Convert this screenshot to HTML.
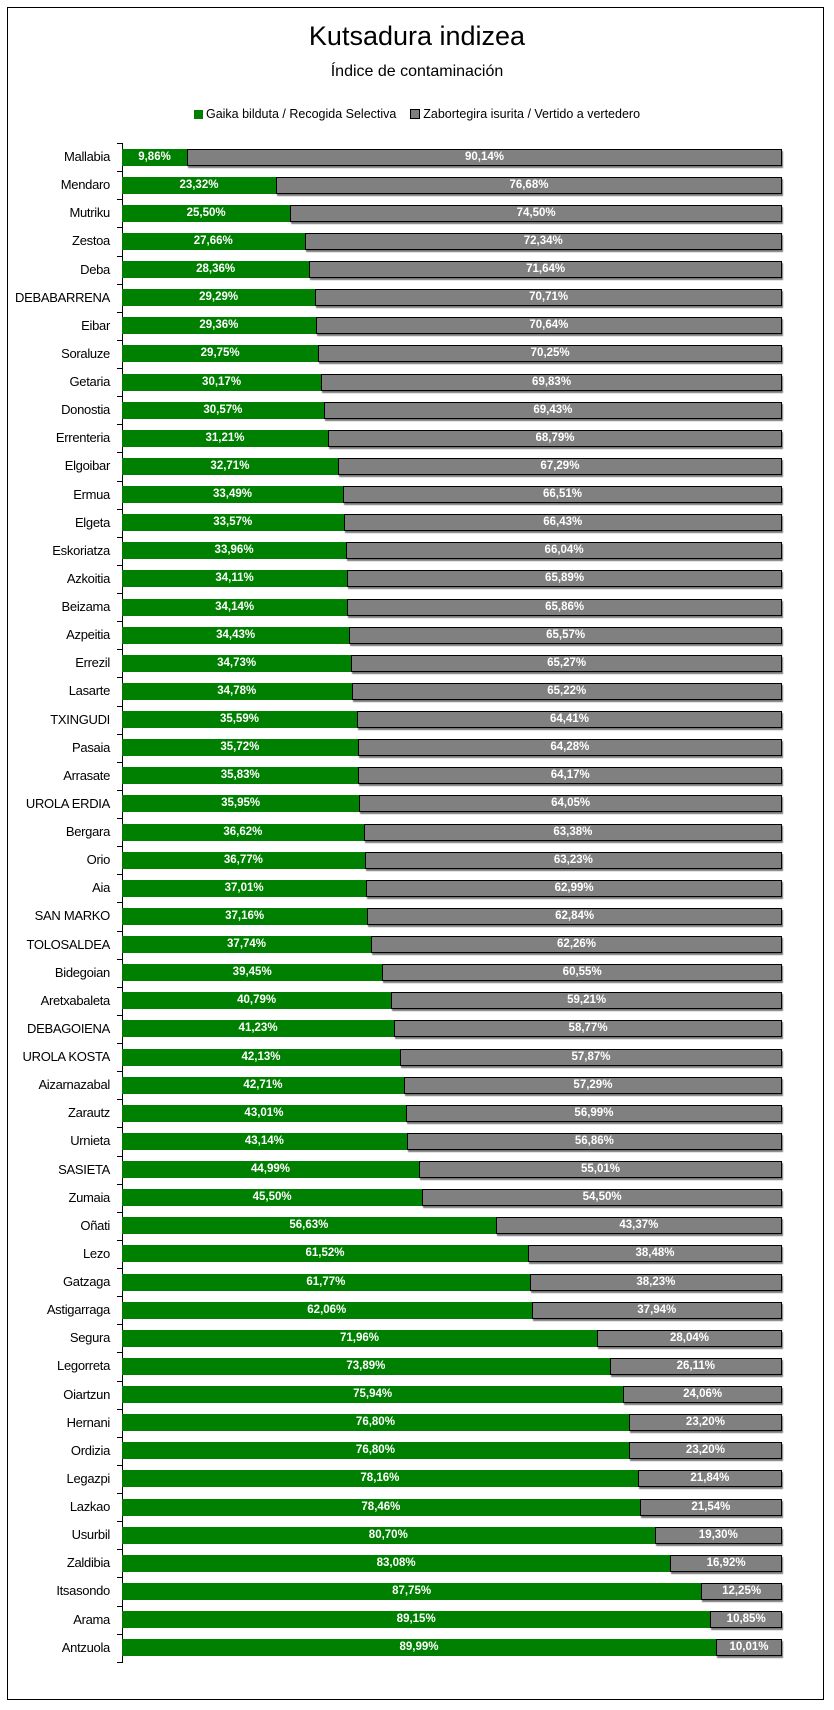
<!DOCTYPE html>
<html><head><meta charset="utf-8"><style>
body{margin:0;width:834px;height:1710px;background:#fff;position:relative;font-family:"Liberation Sans",sans-serif;overflow:hidden}
.frame{position:absolute;left:7px;top:7px;width:817px;height:1693px;border:1px solid #000;box-sizing:border-box}
.t1{position:absolute;top:21px;left:0;width:834px;text-align:center;font-size:27px;color:#000}
.t2{position:absolute;top:63px;left:0;width:834px;text-align:center;font-size:16px;color:#000}
.leg{position:absolute;top:107px;left:0;width:834px;text-align:center;font-size:12.5px;color:#000}
.leg s{display:inline-block;width:9px;height:9px;text-decoration:none;vertical-align:-1px;margin-right:3px}
.rows{position:absolute;top:143px;left:0;width:834px}
.r{position:relative;height:28.13px}
.r:before{content:"";position:absolute;left:117px;top:0;width:5px;height:1px;background:#000}
.r span{position:absolute;left:0;width:110px;text-align:right;top:6px;font-size:13px;color:#000;white-space:nowrap;letter-spacing:-0.3px}
.bar{position:absolute;left:122px;width:660px;top:5.5px;height:17px;display:flex}
.bar b{background:#008000;color:#fff;font-size:11.5px;text-align:center;line-height:17px;white-space:nowrap}
.bar i{flex:1;background:#808080;color:#fff;font-style:normal;font-weight:bold;font-size:11.5px;text-align:center;line-height:15px;border:1px solid #000;box-shadow:1px 2px 1px #777;white-space:nowrap}
.axis{position:absolute;left:122px;top:143px;width:1px;height:1520px;background:#000}
.endt{position:absolute;left:117px;top:1662px;width:5px;height:1px;background:#000}
</style></head><body>
<div class="frame"></div>
<div class="t1">Kutsadura indizea</div>
<div class="t2">Índice de contaminación</div>
<div class="leg"><s style="background:#008000"></s>Gaika bilduta / Recogida Selectiva &nbsp;&nbsp; <s style="background:#808080;border:1px solid #000;width:8px;height:8px"></s>Zabortegira isurita / Vertido a vertedero</div>
<div class="axis"></div><div class="endt"></div>
<div class="rows">
<div class="r"><span>Mallabia</span><div class="bar"><b style="width:9.86%">9,86%</b><i>90,14%</i></div></div>
<div class="r"><span>Mendaro</span><div class="bar"><b style="width:23.32%">23,32%</b><i>76,68%</i></div></div>
<div class="r"><span>Mutriku</span><div class="bar"><b style="width:25.50%">25,50%</b><i>74,50%</i></div></div>
<div class="r"><span>Zestoa</span><div class="bar"><b style="width:27.66%">27,66%</b><i>72,34%</i></div></div>
<div class="r"><span>Deba</span><div class="bar"><b style="width:28.36%">28,36%</b><i>71,64%</i></div></div>
<div class="r"><span>DEBABARRENA</span><div class="bar"><b style="width:29.29%">29,29%</b><i>70,71%</i></div></div>
<div class="r"><span>Eibar</span><div class="bar"><b style="width:29.36%">29,36%</b><i>70,64%</i></div></div>
<div class="r"><span>Soraluze</span><div class="bar"><b style="width:29.75%">29,75%</b><i>70,25%</i></div></div>
<div class="r"><span>Getaria</span><div class="bar"><b style="width:30.17%">30,17%</b><i>69,83%</i></div></div>
<div class="r"><span>Donostia</span><div class="bar"><b style="width:30.57%">30,57%</b><i>69,43%</i></div></div>
<div class="r"><span>Errenteria</span><div class="bar"><b style="width:31.21%">31,21%</b><i>68,79%</i></div></div>
<div class="r"><span>Elgoibar</span><div class="bar"><b style="width:32.71%">32,71%</b><i>67,29%</i></div></div>
<div class="r"><span>Ermua</span><div class="bar"><b style="width:33.49%">33,49%</b><i>66,51%</i></div></div>
<div class="r"><span>Elgeta</span><div class="bar"><b style="width:33.57%">33,57%</b><i>66,43%</i></div></div>
<div class="r"><span>Eskoriatza</span><div class="bar"><b style="width:33.96%">33,96%</b><i>66,04%</i></div></div>
<div class="r"><span>Azkoitia</span><div class="bar"><b style="width:34.11%">34,11%</b><i>65,89%</i></div></div>
<div class="r"><span>Beizama</span><div class="bar"><b style="width:34.14%">34,14%</b><i>65,86%</i></div></div>
<div class="r"><span>Azpeitia</span><div class="bar"><b style="width:34.43%">34,43%</b><i>65,57%</i></div></div>
<div class="r"><span>Errezil</span><div class="bar"><b style="width:34.73%">34,73%</b><i>65,27%</i></div></div>
<div class="r"><span>Lasarte</span><div class="bar"><b style="width:34.78%">34,78%</b><i>65,22%</i></div></div>
<div class="r"><span>TXINGUDI</span><div class="bar"><b style="width:35.59%">35,59%</b><i>64,41%</i></div></div>
<div class="r"><span>Pasaia</span><div class="bar"><b style="width:35.72%">35,72%</b><i>64,28%</i></div></div>
<div class="r"><span>Arrasate</span><div class="bar"><b style="width:35.83%">35,83%</b><i>64,17%</i></div></div>
<div class="r"><span>UROLA ERDIA</span><div class="bar"><b style="width:35.95%">35,95%</b><i>64,05%</i></div></div>
<div class="r"><span>Bergara</span><div class="bar"><b style="width:36.62%">36,62%</b><i>63,38%</i></div></div>
<div class="r"><span>Orio</span><div class="bar"><b style="width:36.77%">36,77%</b><i>63,23%</i></div></div>
<div class="r"><span>Aia</span><div class="bar"><b style="width:37.01%">37,01%</b><i>62,99%</i></div></div>
<div class="r"><span>SAN MARKO</span><div class="bar"><b style="width:37.16%">37,16%</b><i>62,84%</i></div></div>
<div class="r"><span>TOLOSALDEA</span><div class="bar"><b style="width:37.74%">37,74%</b><i>62,26%</i></div></div>
<div class="r"><span>Bidegoian</span><div class="bar"><b style="width:39.45%">39,45%</b><i>60,55%</i></div></div>
<div class="r"><span>Aretxabaleta</span><div class="bar"><b style="width:40.79%">40,79%</b><i>59,21%</i></div></div>
<div class="r"><span>DEBAGOIENA</span><div class="bar"><b style="width:41.23%">41,23%</b><i>58,77%</i></div></div>
<div class="r"><span>UROLA KOSTA</span><div class="bar"><b style="width:42.13%">42,13%</b><i>57,87%</i></div></div>
<div class="r"><span>Aizarnazabal</span><div class="bar"><b style="width:42.71%">42,71%</b><i>57,29%</i></div></div>
<div class="r"><span>Zarautz</span><div class="bar"><b style="width:43.01%">43,01%</b><i>56,99%</i></div></div>
<div class="r"><span>Urnieta</span><div class="bar"><b style="width:43.14%">43,14%</b><i>56,86%</i></div></div>
<div class="r"><span>SASIETA</span><div class="bar"><b style="width:44.99%">44,99%</b><i>55,01%</i></div></div>
<div class="r"><span>Zumaia</span><div class="bar"><b style="width:45.50%">45,50%</b><i>54,50%</i></div></div>
<div class="r"><span>Oñati</span><div class="bar"><b style="width:56.63%">56,63%</b><i>43,37%</i></div></div>
<div class="r"><span>Lezo</span><div class="bar"><b style="width:61.52%">61,52%</b><i>38,48%</i></div></div>
<div class="r"><span>Gatzaga</span><div class="bar"><b style="width:61.77%">61,77%</b><i>38,23%</i></div></div>
<div class="r"><span>Astigarraga</span><div class="bar"><b style="width:62.06%">62,06%</b><i>37,94%</i></div></div>
<div class="r"><span>Segura</span><div class="bar"><b style="width:71.96%">71,96%</b><i>28,04%</i></div></div>
<div class="r"><span>Legorreta</span><div class="bar"><b style="width:73.89%">73,89%</b><i>26,11%</i></div></div>
<div class="r"><span>Oiartzun</span><div class="bar"><b style="width:75.94%">75,94%</b><i>24,06%</i></div></div>
<div class="r"><span>Hernani</span><div class="bar"><b style="width:76.80%">76,80%</b><i>23,20%</i></div></div>
<div class="r"><span>Ordizia</span><div class="bar"><b style="width:76.80%">76,80%</b><i>23,20%</i></div></div>
<div class="r"><span>Legazpi</span><div class="bar"><b style="width:78.16%">78,16%</b><i>21,84%</i></div></div>
<div class="r"><span>Lazkao</span><div class="bar"><b style="width:78.46%">78,46%</b><i>21,54%</i></div></div>
<div class="r"><span>Usurbil</span><div class="bar"><b style="width:80.70%">80,70%</b><i>19,30%</i></div></div>
<div class="r"><span>Zaldibia</span><div class="bar"><b style="width:83.08%">83,08%</b><i>16,92%</i></div></div>
<div class="r"><span>Itsasondo</span><div class="bar"><b style="width:87.75%">87,75%</b><i>12,25%</i></div></div>
<div class="r"><span>Arama</span><div class="bar"><b style="width:89.15%">89,15%</b><i>10,85%</i></div></div>
<div class="r"><span>Antzuola</span><div class="bar"><b style="width:89.99%">89,99%</b><i>10,01%</i></div></div>
</div>
</body></html>
